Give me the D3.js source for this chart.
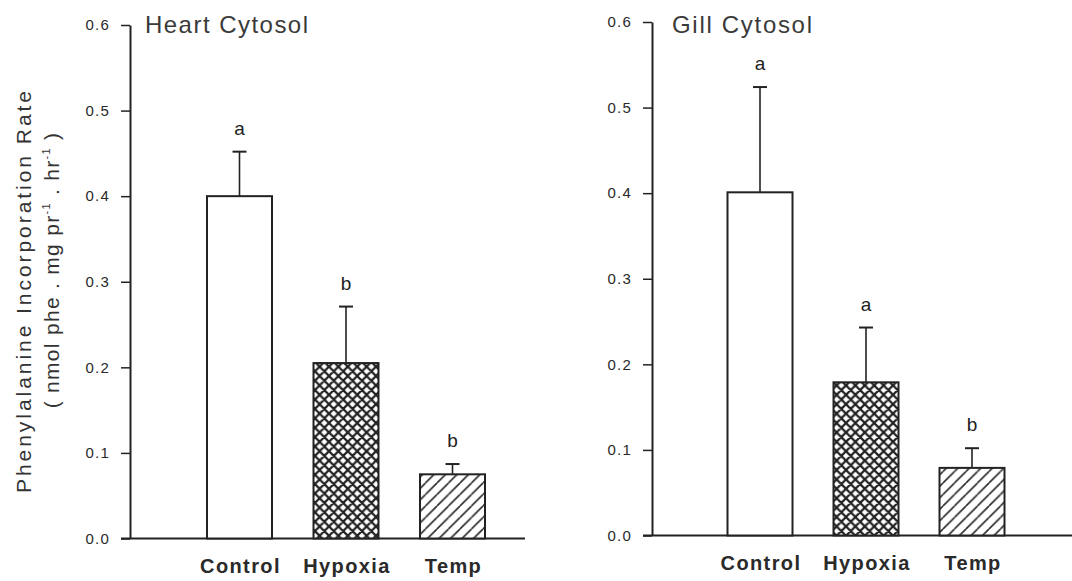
<!DOCTYPE html>
<html><head><meta charset="utf-8">
<script src="https://cdn.jsdelivr.net/npm/d3@7"></script>
<style>body{margin:0;background:#fff}svg{display:block}text{font-family:"Liberation Sans",Arial,sans-serif}</style>
</head><body>
<svg id="c" width="1072" height="581"></svg>
<script>
const categories = ["Control", "Hypoxia", "Temp"];
const heartMeans = [0.400, 0.205, 0.075];
const heartErr   = [0.052, 0.066, 0.012];
const heartLetters = ["a", "b", "b"];
const gillMeans  = [0.401, 0.179, 0.079];
const gillErr    = [0.123, 0.064, 0.023];
const gillLetters = ["a", "a", "b"];
const yTicks = [0, 0.1, 0.2, 0.3, 0.4, 0.5, 0.6];
const fills = ["#fff", "url(#cross)", "url(#diag)"];

const svg = d3.select("#c");
const defs = svg.append("defs");
const cross = defs.append("pattern").attr("id","cross").attr("patternUnits","userSpaceOnUse")
  .attr("width",9.4).attr("height",9.4);
cross.append("rect").attr("width",9.4).attr("height",9.4).attr("fill","#fff");
cross.append("path").attr("d","M-1,-1 L10.4,10.4 M-1,8.4 L1,10.4 M8.4,-1 L10.4,1 M10.4,-1 L-1,10.4 M-1,1 L1,-1 M8.4,10.4 L10.4,8.4")
  .attr("stroke","#222").attr("stroke-width",2.2);
const diag = defs.append("pattern").attr("id","diag").attr("patternUnits","userSpaceOnUse")
  .attr("width",11.5).attr("height",11.5);
diag.append("rect").attr("width",11.5).attr("height",11.5).attr("fill","#fff");
diag.append("path").attr("d","M-1,12.5 L12.5,-1 M-6,5.75 L5.75,-6 M5.75,17.5 L17.5,5.75")
  .attr("stroke","#2a2a2a").attr("stroke-width",1.6);

function panel(o){
  const y = d3.scaleLinear().domain([0,0.6]).range([o.y0, o.y1]);
  const x = d3.scalePoint().domain(categories).range([o.c0, o.c1]);
  const bw = 65;
  const g = svg.append("g");
  g.append("line").attr("x1",o.b0).attr("x2",o.b1).attr("y1",y(0)).attr("y2",y(0))
    .attr("stroke","#222").attr("stroke-width",2);
  const ax = g.append("g").attr("transform",`translate(${o.ax},0)`)
    .call(d3.axisLeft(y).tickValues(yTicks).tickFormat(d3.format(".1f")).tickSize(9).tickSizeOuter(0).tickPadding(11));
  ax.select(".domain").attr("stroke","#222").attr("stroke-width",2);
  ax.selectAll(".tick line").attr("stroke","#222").attr("stroke-width",1.5);
  ax.selectAll(".tick text").attr("font-size",15).attr("letter-spacing",1.2).attr("fill","#2a2a2a")
    .style("font-family","'Liberation Sans',Arial,sans-serif");
  g.selectAll(".err").data(o.means).enter().append("g").each(function(d,i){
    const cx = x(categories[i]);
    const sel = d3.select(this);
    sel.append("line").attr("x1",cx).attr("x2",cx).attr("y1",y(d)).attr("y2",y(d+o.err[i]))
      .attr("stroke","#222").attr("stroke-width",1.6);
    sel.append("line").attr("x1",cx-7).attr("x2",cx+7).attr("y1",y(d+o.err[i])).attr("y2",y(d+o.err[i]))
      .attr("stroke","#222").attr("stroke-width",2);
  });
  g.selectAll(".bar").data(o.means).enter().append("rect")
    .attr("x",(d,i)=>x(categories[i])-bw/2).attr("width",bw)
    .attr("y",d=>y(d)).attr("height",d=>y(0)-y(d))
    .attr("fill",(d,i)=>fills[i]).attr("stroke","#222").attr("stroke-width",2);
  g.selectAll(".let").data(o.letters).enter().append("text")
    .attr("x",(d,i)=>x(categories[i])).attr("y",(d,i)=>y(o.means[i]+o.err[i])-17)
    .attr("text-anchor","middle").attr("font-size",19).attr("fill","#222").text(d=>d);
  g.selectAll(".cat").data(categories).enter().append("text")
    .attr("x",d=>x(d)+1).attr("y",y(0)+34).attr("text-anchor","middle")
    .attr("font-size",20).attr("font-weight","bold").attr("fill","#2a2a2a").attr("letter-spacing",1.4).text(d=>d);
  g.append("text").attr("x",o.tx).attr("y",33).attr("font-size",24).attr("fill","#3a3a3a")
    .attr("textLength",o.tl).attr("lengthAdjust","spacing").text(o.title);
}

panel({y0:538.5, y1:25, c0:239.5, c1:452.5, ax:130, b0:121, b1:525, means:heartMeans, err:heartErr, letters:heartLetters, title:"Heart Cytosol", tx:145, tl:163});
panel({y0:535.5, y1:22, c0:760, c1:972, ax:652, b0:643, b1:1072, means:gillMeans, err:gillErr, letters:gillLetters, title:"Gill Cytosol", tx:672, tl:140});

const yl = svg.append("g");
yl.append("text").attr("transform","translate(31,292) rotate(-90)").attr("text-anchor","middle")
  .attr("font-size",21).attr("fill","#333").attr("textLength",402).attr("lengthAdjust","spacing")
  .text("Phenylalanine Incorporation Rate");
const t2 = yl.append("text").attr("transform","translate(59,270) rotate(-90)").attr("text-anchor","middle")
  .attr("font-size",21).attr("fill","#333").attr("letter-spacing",1.3);
t2.append("tspan").text("( nmol phe . mg pr");
t2.append("tspan").attr("font-size",11).attr("dy",-9).text("-1");
t2.append("tspan").attr("dy",9).text(" . hr");
t2.append("tspan").attr("font-size",11).attr("dy",-9).text("-1");
t2.append("tspan").attr("dy",9).text(" )");
</script>
</body></html>
